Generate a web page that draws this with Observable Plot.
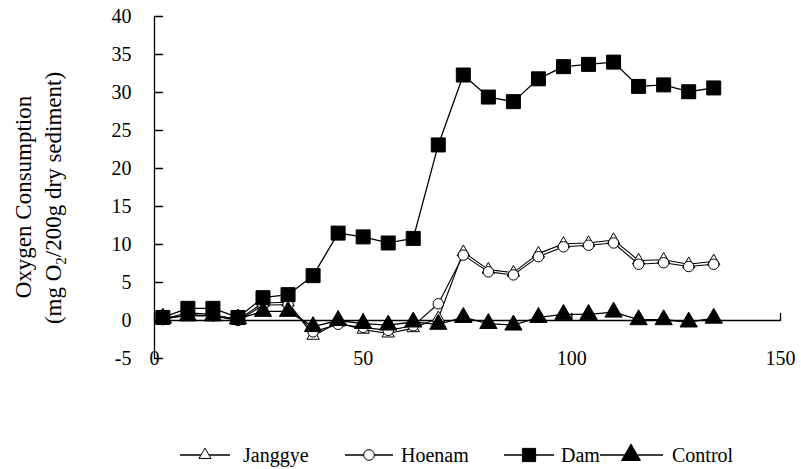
<!DOCTYPE html>
<html><head><meta charset="utf-8">
<script src="https://cdn.jsdelivr.net/npm/d3@7"></script>
<script src="https://cdn.jsdelivr.net/npm/@observablehq/plot@0.6"></script>
<style>
body{margin:0;background:#fff;}
#chart svg{display:block;}
#chart svg, #chart svg text { font-family: "Liberation Serif", "Times New Roman", Times, serif !important; }
</style>
</head><body><div id="chart"></div>
<script>
const days = [2, 8, 14, 20, 26, 32, 38, 44, 50, 56, 62, 68, 74, 80, 86, 92, 98, 104, 110, 116, 122, 128, 134];
const janggye = [0.2, 1.0, 0.8, 0.1, 2.3, 2.4, -2.0, -0.3, -1.2, -1.7, -1.0, 0.3, 9.0, 6.7, 6.3, 8.8, 10.1, 10.2, 10.6, 7.9, 8.0, 7.4, 7.8];
const hoenam = [0.1, 0.8, 0.6, 0.0, 2.0, 2.1, -1.5, -0.5, -0.9, -1.3, -0.7, 2.2, 8.6, 6.4, 6.0, 8.4, 9.7, 9.9, 10.2, 7.4, 7.6, 7.1, 7.4];
const dam = [0.4, 1.6, 1.6, 0.4, 3.0, 3.4, 5.9, 11.5, 11.0, 10.2, 10.8, 23.1, 32.3, 29.4, 28.8, 31.8, 33.4, 33.7, 34.0, 30.8, 31.0, 30.1, 30.6];
const control = [0.3, 0.6, 0.6, 0.2, 1.2, 1.2, -0.8, 0.0, -0.4, -0.6, -0.2, -0.5, 0.4, -0.4, -0.6, 0.4, 0.8, 0.8, 1.1, 0.1, 0.1, -0.2, 0.3];
const seriesNames = ["Janggye", "Hoenam", "Dam", "Control"];
const yTicks = [-5, 0, 5, 10, 15, 20, 25, 30, 35, 40];
const xTicks = [0, 50, 100, 150];
const yTitle1 = "Oxygen Consumption";
const yTitle2 = ["(mg O", "2", "/200g dry sediment)"];

const seriesValues = [janggye, hoenam, dam, control];
const rows = [];
seriesValues.forEach((vals, i) => vals.forEach((v, j) => rows.push({series: seriesNames[i], day: days[j], value: v})));

const styles = {
  Janggye: {symbol: "triangle", r: 4.6, fill: "white", lsize: 62},
  Hoenam: {symbol: "circle", r: 5.2, fill: "white", lsize: 90},
  Dam: {symbol: "square", r: 7.9, fill: "black", lsize: 175},
  Control: {symbol: "triangle", r: 6.4, fill: "black", lsize: 155}
};

const tickShape = {draw(ctx, l) { ctx.moveTo(0, 0); ctx.lineTo(0, -l); }};

const seriesMarks = seriesNames.flatMap(name => {
  const data = rows.filter(d => d.series === name);
  const s = styles[name];
  return [
    Plot.line(data, {x: "day", y: "value", stroke: "black", strokeWidth: name === "Dam" || name === "Control" ? 1.3 : 1.1}),
    Plot.dot(data, {x: "day", y: "value", symbol: () => s.symbol, r: s.r, fill: s.fill, stroke: "black", strokeWidth: 1})
  ];
});

const chart = Plot.plot({
  width: 801,
  height: 469,
  marginLeft: 154,
  marginRight: 21,
  marginTop: 16,
  marginBottom: 111,
  style: {fontSize: "20px", background: "white", color: "black"},
  x: {domain: [0, 150], axis: null},
  y: {domain: [-5, 40], axis: null},
  symbol: {type: "identity"},
  marks: [
    Plot.ruleX([0], {y1: -5, y2: 40, stroke: "black", strokeWidth: 1.3}),
    Plot.ruleY([0], {x1: 0, x2: 150, stroke: "black", strokeWidth: 1.3}),
    Plot.vector(yTicks, {x: 0, y: d => d, length: 8, rotate: 90, anchor: "start", shape: tickShape, stroke: "black", strokeWidth: 1.3}),
    Plot.vector(xTicks, {x: d => d, y: 0, length: 7, rotate: 0, anchor: "start", shape: tickShape, stroke: "black", strokeWidth: 1.3}),
    Plot.text(yTicks, {x: 0, y: d => d, text: d => String(d), textAnchor: "end", dx: -23, fontSize: 20, fill: "black"}),
    Plot.text(xTicks, {x: d => d, y: -5, text: d => String(d), fontSize: 20, fill: "black"}),
    ...seriesMarks
  ]
});

document.getElementById("chart").appendChild(chart);

const svg = d3.select(chart);
svg.append("text").attr("transform", "translate(31,197) rotate(-90)")
  .attr("text-anchor", "middle").attr("font-size", 23).attr("fill", "black").text(yTitle1);
const t2 = svg.append("text").attr("transform", "translate(61,198) rotate(-90)")
  .attr("text-anchor", "middle").attr("font-size", 23).attr("fill", "black");
t2.append("tspan").text(yTitle2[0]);
t2.append("tspan").attr("font-size", 15).attr("dy", 5).text(yTitle2[1]);
t2.append("tspan").attr("dy", -5).text(yTitle2[2]);

// legend
const legendItems = [
  {name: "Janggye", x1: 180, x2: 230, mx: 205, tx: 243},
  {name: "Hoenam", x1: 345, x2: 393, mx: 369, tx: 401},
  {name: "Dam", x1: 504, x2: 554, mx: 529, tx: 561},
  {name: "Control", x1: 600, x2: 663, mx: 631, tx: 672}
];
const ly = 455;
const symMap = {triangle: d3.symbolTriangle, circle: d3.symbolCircle, square: d3.symbolSquare};
const lg = svg.append("g");
legendItems.forEach(it => {
  const s = styles[it.name];
  lg.append("line").attr("x1", it.x1).attr("x2", it.x2).attr("y1", ly).attr("y2", ly).attr("stroke", "black").attr("stroke-width", 1.3);
  lg.append("path").attr("d", d3.symbol(symMap[s.symbol], s.lsize)()).attr("transform", `translate(${it.mx},${ly})`)
    .attr("fill", s.fill).attr("stroke", "black").attr("stroke-width", 1);
  lg.append("text").attr("x", it.tx).attr("y", ly).attr("dy", "0.35em").attr("text-anchor", "start")
    .attr("font-size", 20).attr("fill", "black").text(it.name);
});
</script>
</body></html>
